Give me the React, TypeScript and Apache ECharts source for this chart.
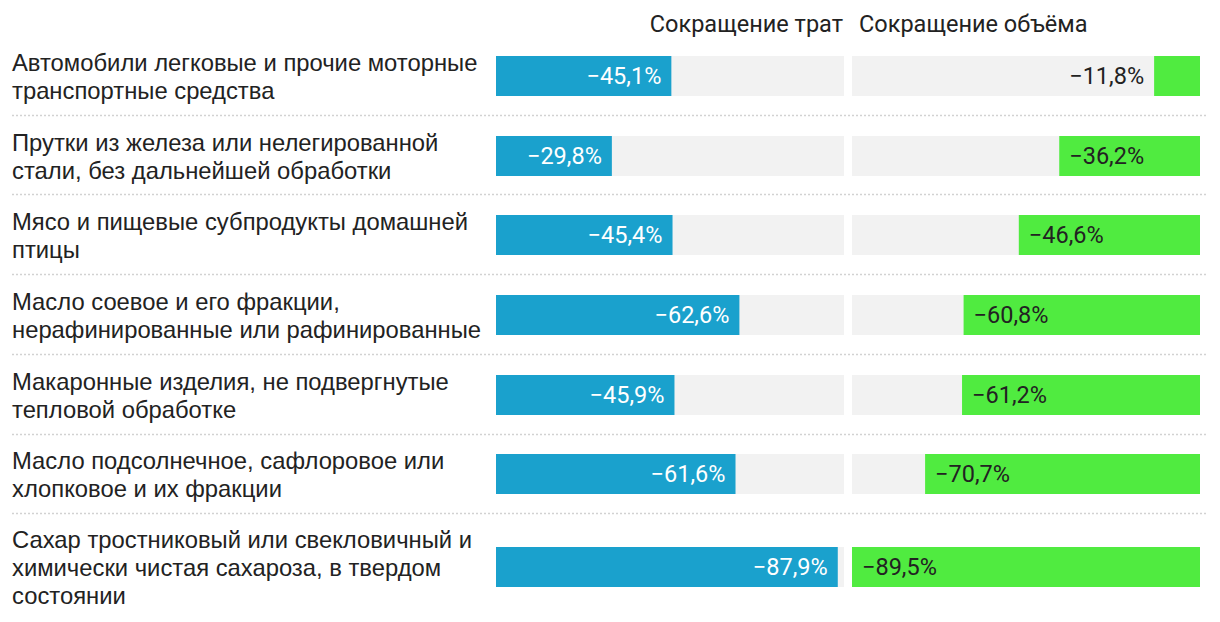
import React, { useEffect, useRef } from "react";
import * as echarts from "echarts";

const categories: string[] = [
  "Автомобили легковые и прочие моторные\nтранспортные средства",
  "Прутки из железа или нелегированной\nстали, без дальнейшей обработки",
  "Мясо и пищевые субпродукты домашней\nптицы",
  "Масло соевое и его фракции,\nнерафинированные или рафинированные",
  "Макаронные изделия, не подвергнутые\nтепловой обработке",
  "Масло подсолнечное, сафлоровое или\nхлопковое и их фракции",
  "Сахар тростниковый или свекловичный и\nхимически чистая сахароза, в твердом\nсостоянии",
];
const spendingCut: number[] = [45.1, 29.8, 45.4, 62.6, 45.9, 61.6, 87.9];
const volumeCut: number[] = [11.8, 36.2, 46.6, 60.8, 61.2, 70.7, 89.5];
const headerSpending = "Сокращение трат";
const headerVolume = "Сокращение объёма";

const BLUE = "#1aa1cd";
const GREEN = "#50eb40";
const BG = "#f2f2f2";
const TEXT = "#222222";

const fmt = (v: number) => "\u2212" + v.toFixed(1).replace(".", ",") + "%";

export default function App() {
  const ref = useRef<HTMLDivElement>(null);
  useEffect(() => {
    if (!ref.current) return;
    const chart = echarts.init(ref.current, null, { renderer: "svg" });
    const maxV = Math.max(...spendingCut, ...volumeCut);

    const leftX = 496;
    const rightX = 852;
    const panelW = 348;
    const barH = 40;
    let rowTop = 36;
    const grids: any[] = [];
    const xAxes: any[] = [];
    const yAxes: any[] = [];
    const series: any[] = [];
    const graphics: any[] = [];

    categories.forEach((cat, i) => {
      const lines = cat.split("\n").length;
      const rowH = 79.7 + (lines - 2) * 26;
      const barTop = Math.round(rowTop + (rowH - barH) / 2);
      grids.push({ left: leftX, top: barTop, width: panelW, height: barH });
      grids.push({ left: rightX, top: barTop, width: panelW, height: barH });
      const gl = i * 2;
      const gr = i * 2 + 1;
      xAxes.push({ type: "value", gridIndex: gl, min: 0, max: maxV, show: false });
      xAxes.push({ type: "value", gridIndex: gr, min: 0, max: maxV, show: false, inverse: true });
      yAxes.push({
        type: "category",
        gridIndex: gl,
        data: [cat],
        axisLine: { show: false },
        axisTick: { show: false },
        splitLine: { show: false },
        axisLabel: {
          show: true,
          interval: 0,
          align: "left",
          margin: leftX - 12,
          fontFamily: "Liberation Sans, Arial, sans-serif",
          fontSize: 23.8,
          lineHeight: 28,
          color: TEXT,
        },
      });
      yAxes.push({ type: "category", gridIndex: gr, data: [cat], show: false });
      series.push({
        type: "bar",
        xAxisIndex: gl,
        yAxisIndex: gl,
        barWidth: barH,
        data: [spendingCut[i]],
        itemStyle: { color: BLUE },
        showBackground: true,
        backgroundStyle: { color: BG },
        label: {
          show: true,
          position: "insideRight",
          distance: 10,
          color: "#ffffff",
          fontFamily: "Roboto, sans-serif",
          fontSize: 23.5,
          formatter: (p: any) => fmt(p.value),
        },
      });
      const vol = volumeCut[i];
      const small = vol < 20;
      series.push({
        type: "bar",
        xAxisIndex: gr,
        yAxisIndex: gr,
        barWidth: barH,
        data: [vol],
        itemStyle: { color: GREEN },
        showBackground: true,
        backgroundStyle: { color: BG },
        label: {
          show: true,
          position: small ? "left" : "insideLeft",
          distance: 10,
          color: TEXT,
          fontFamily: "Roboto, sans-serif",
          fontSize: 23.5,
          formatter: (p: any) => fmt(p.value),
        },
      });
      rowTop += rowH;
      if (i < categories.length - 1) {
        const y = Math.round(rowTop) - 0.5;
        graphics.push({
          type: "line",
          shape: { x1: 12, y1: y, x2: 1208, y2: y },
          style: { stroke: "#d2d2d2", lineWidth: 1.5, lineDash: [2, 2] },
          silent: true,
        });
      }
    });

    graphics.push({
      type: "text",
      right: 1220 - 843,
      top: 12,
      style: {
        text: headerSpending,
        fontFamily: "Roboto, sans-serif",
        fontSize: 23.5,
        fill: TEXT,
      },
    });
    graphics.push({
      type: "text",
      left: 859,
      top: 12,
      style: {
        text: headerVolume,
        fontFamily: "Roboto, sans-serif",
        fontSize: 23.5,
        fill: TEXT,
      },
    });

    chart.setOption({
      animation: false,
      backgroundColor: "#ffffff",
      grid: grids,
      xAxis: xAxes,
      yAxis: yAxes,
      series,
      graphic: graphics,
    });
    return () => chart.dispose();
  }, []);
  return (
    <div
      ref={ref}
      style={{ position: "fixed", left: 0, top: 0, width: 1220, height: 622 }}
    />
  );
}
